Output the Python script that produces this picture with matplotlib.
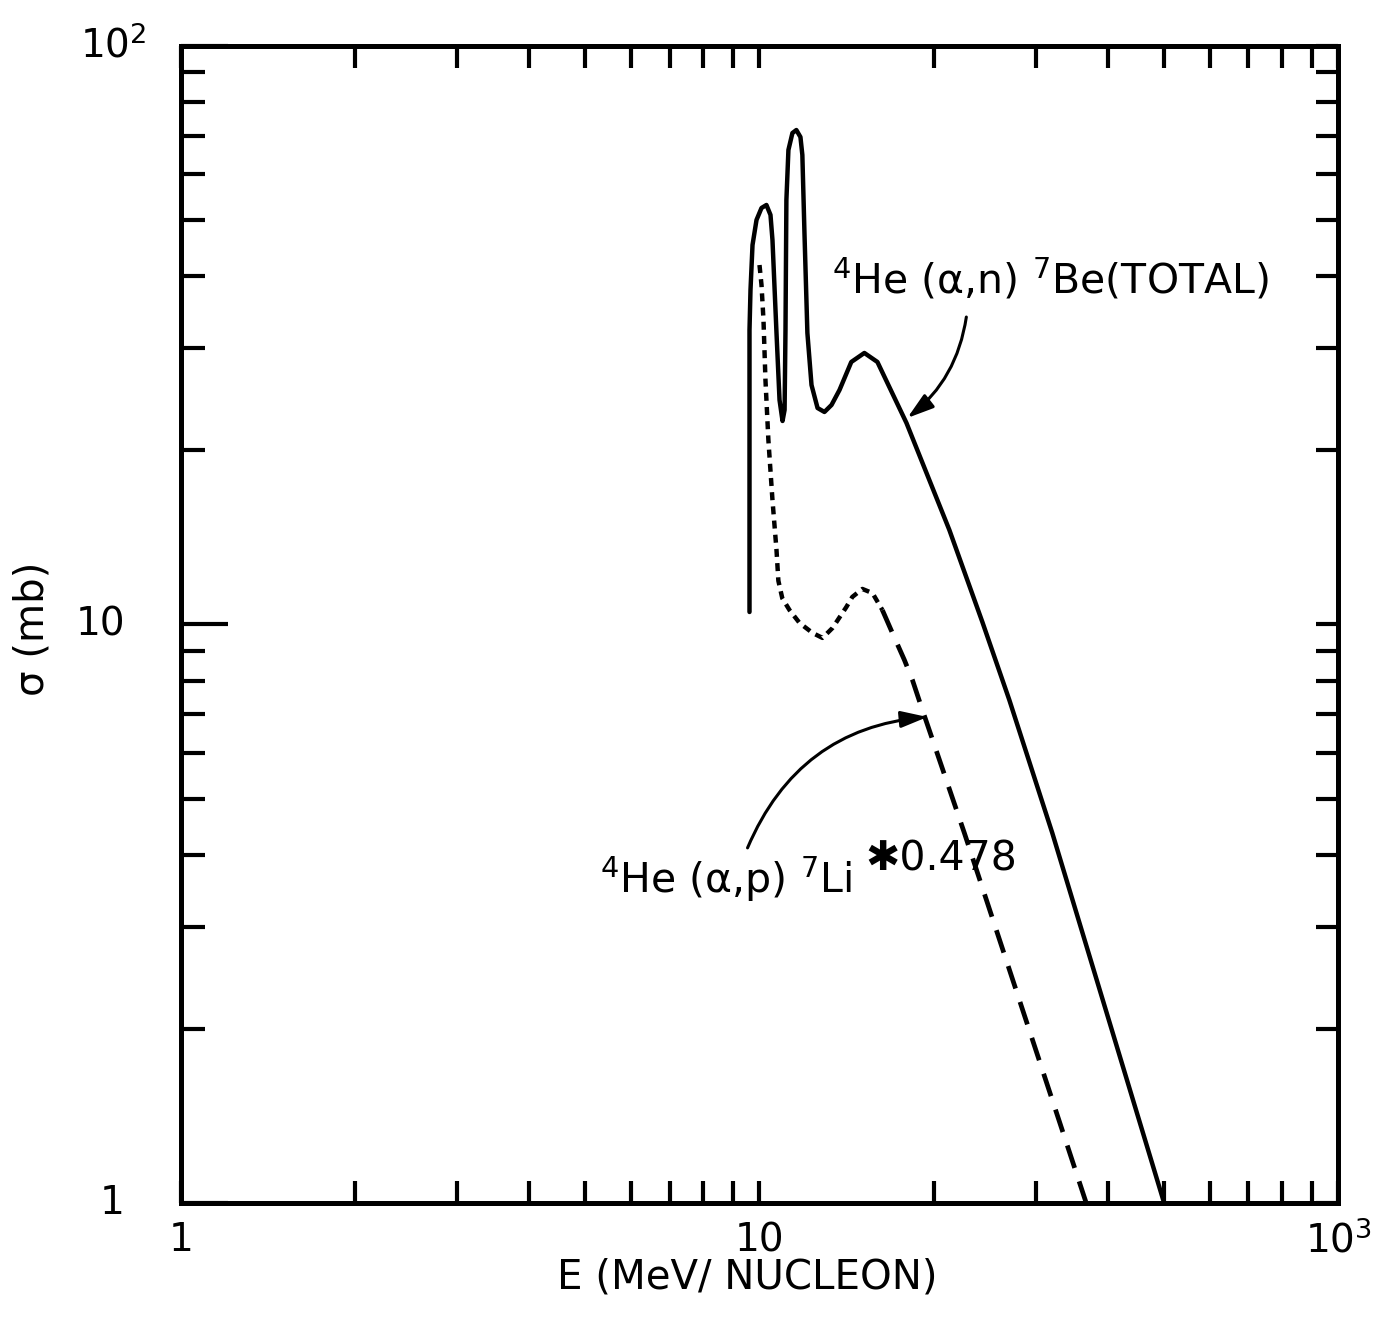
import matplotlib
matplotlib.use("Agg")
import matplotlib.pyplot as plt
from matplotlib import transforms
from matplotlib.ticker import LogLocator, NullFormatter

# ---------------- data ----------------
# 4He(alpha,n)7Be (TOTAL) cross-section, sigma (mb) vs E (MeV/nucleon)
be_E = [9.61, 9.61, 9.648, 9.726, 9.882, 10.08, 10.28, 10.447, 10.53, 10.70,
        10.83, 10.96, 11.05, 11.09, 11.13, 11.22, 11.40, 11.58, 11.77, 11.86,
        11.96, 12.10, 12.30, 12.60, 12.95, 13.32, 13.75, 14.41, 15.18, 15.99,
        17.95, 21.29, 24.28, 27.03, 32.07, 50.06]
be_sigma = [10.51, 32.29, 37.87, 45.29, 50.04, 52.48, 53.11, 51.05, 46.19, 31.91,
            24.44, 22.48, 23.49, 32.29, 54.18, 66.11, 70.72, 71.57, 69.60, 64.81,
            47.50, 31.91, 25.94, 23.67, 23.30, 23.96, 25.43, 28.43, 29.47, 28.43,
            22.30, 14.57, 10.10, 7.406, 4.362, 1.0]

# 4He(alpha,p)7Li * 0.478
li_E = [10.0, 10.08, 10.16, 10.24, 10.36, 10.53, 10.70, 10.78, 10.95, 11.27,
        11.73, 12.35, 12.85, 13.37, 14.13, 14.47, 15.06, 15.68, 16.31, 16.97,
        17.80, 18.38, 19.05, 22.60, 36.71]
li_sigma = [41.82, 38.63, 33.60, 26.47, 20.84, 16.41, 13.45, 11.9, 11.1, 10.59,
            10.06, 9.67, 9.48, 9.86, 10.72, 11.16, 11.52, 11.33, 10.59, 9.67,
            8.685, 8.019, 7.199, 4.362, 1.0]
li_split = 18  # index where the dash pattern becomes longer

x_ticks = [1, 10, 100]
x_tick_labels = ["1", "10", "$10^3$"]
y_ticks = [1, 10, 100]
y_tick_labels = ["1", "10", "$10^2$"]

label_be = "$^4$He (α,n) $^7$Be(TOTAL)"
label_li = "$^4$He (α,p) $^7$Li"
label_li_factor = "✱0.478"

# ---------------- figure ----------------
fig = plt.figure(figsize=(13.76, 13.17), dpi=100)
ax = fig.add_axes([0.13154, 0.08656, 0.84084, 0.87852])
ax.set_xscale("log")
ax.set_yscale("log")
ax.set_xlim(1, 100)
ax.set_ylim(1, 100)

for s in ax.spines.values():
    s.set_linewidth(3.6)
    s.set_color("black")

# curves
ax.plot(be_E, be_sigma, color="black", lw=3.2, solid_joinstyle="round",
        solid_capstyle="round")
ax.plot(li_E[:li_split + 1], li_sigma[:li_split + 1], color="black", lw=3.2,
        linestyle=(0, (1.8, 1.4)))
ax.plot(li_E[li_split:], li_sigma[li_split:], color="black", lw=3.4,
        linestyle=(0, (5.0, 3.0)))

# x ticks
ax.set_xticks(x_ticks, labels=x_tick_labels)
ax.xaxis.set_minor_locator(LogLocator(base=10, subs=range(2, 10), numticks=20))
ax.xaxis.set_minor_formatter(NullFormatter())
ax.tick_params(axis="x", which="both", direction="in", top=True, bottom=True,
               length=16, width=3, labelsize=28, pad=13)

# y ticks (left, long major ticks)
ax.set_yticks(y_ticks)
ax.yaxis.set_minor_locator(LogLocator(base=10, subs=range(2, 10), numticks=20))
ax.yaxis.set_minor_formatter(NullFormatter())
ax.tick_params(axis="y", which="major", direction="in", left=True, right=False,
               length=34, width=3, labelleft=False)
ax.tick_params(axis="y", which="minor", direction="in", left=True, right=False,
               length=17, width=3, labelleft=False)

# right-side ticks
ax2 = ax.twinx()
ax2.set_yscale("log")
ax2.set_ylim(1, 100)
ax2.set_yticks(y_ticks)
ax2.yaxis.set_minor_locator(LogLocator(base=10, subs=range(2, 10), numticks=20))
ax2.yaxis.set_minor_formatter(NullFormatter())
ax2.tick_params(axis="y", which="both", direction="in", length=16, width=3,
                labelright=False)
for s in ax2.spines.values():
    s.set_visible(False)

# y tick labels
ytr = transforms.blended_transform_factory(ax.transAxes, ax.transData)
for v, lab in zip(y_ticks, y_tick_labels):
    if v == 100:
        ax.text(-0.0873, v, lab, transform=ytr, ha="left", va="center",
                fontsize=28)
    else:
        ax.text(-0.0484, v, lab, transform=ytr, ha="right", va="center",
                fontsize=28)

# axis labels
ax.set_xlabel("E (MeV/ NUCLEON)", fontsize=29)
ax.xaxis.set_label_coords(0.489, -0.047)
ax.set_ylabel("σ (mb)", fontsize=29)
ax.yaxis.set_label_coords(-0.111, 0.496)

# annotations
ax.text(0.5627, 0.7865, label_be, transform=ax.transAxes, fontsize=29.5,
        ha="left", va="baseline")
ax.annotate("", xy=(18.01, 22.75), xytext=(22.78, 34.0),
            arrowprops=dict(arrowstyle="-|>,head_length=0.8,head_width=0.25",
                            connectionstyle="arc3,rad=-0.2", color="black",
                            lw=2.2, shrinkA=0, shrinkB=0, mutation_scale=20))

ax.text(0.3621, 0.2679, label_li, transform=ax.transAxes, fontsize=29.5,
        ha="left", va="baseline")
ax.text(0.5912, 0.2878, label_li_factor, transform=ax.transAxes, fontsize=29.5,
        ha="left", va="baseline")
ax.annotate("", xy=(19.51, 6.92), xytext=(9.535, 4.11),
            arrowprops=dict(arrowstyle="-|>,head_length=0.8,head_width=0.25",
                            connectionstyle="arc3,rad=-0.3", color="black",
                            lw=2.2, shrinkA=0, shrinkB=0, mutation_scale=20))

fig.savefig("out.png", dpi=100, facecolor="white")
